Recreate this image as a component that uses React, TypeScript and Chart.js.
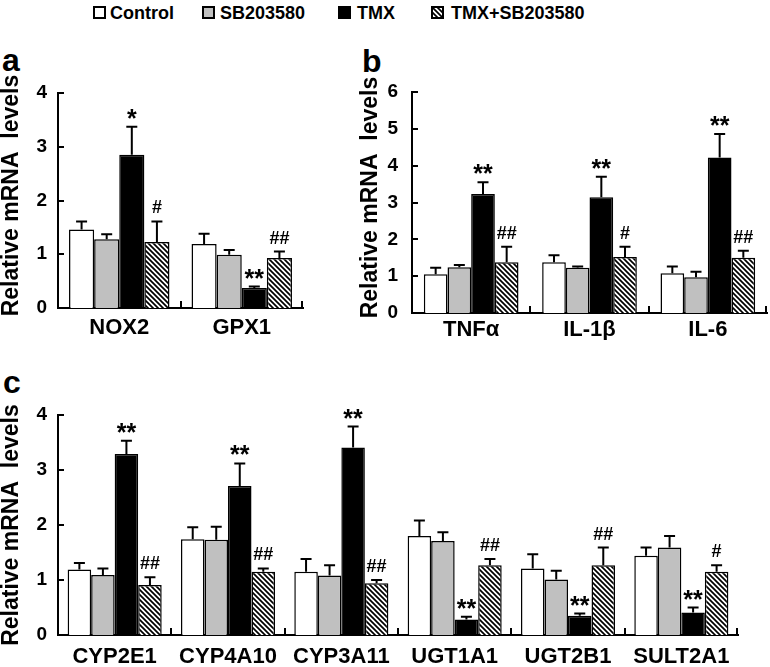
import React, { useEffect, useRef, useMemo } from 'react';
import { Chart, registerables } from 'chart.js';

Chart.register(...registerables);

const FONT = '"Liberation Sans", Arial, Helvetica, sans-serif';

// ---------- data ----------
const groupNames = ['Control', 'SB203580', 'TMX', 'TMX+SB203580'];
const yTitle = 'Relative mRNA  levels';

// panel a
const catsA = ['NOX2', 'GPX1'];
const ctrlA = [1.46, 1.19];
const ctrlErrA = [0.15, 0.19];
const sbA = [1.28, 0.99];
const sbErrA = [0.09, 0.09];
const tmxA = [2.85, 0.37];
const tmxErrA = [0.52, 0.03];
const combA = [1.23, 0.93];
const combErrA = [0.38, 0.12];
const sigTmxA = ['*', '**'];
const sigCombA = ['#', '##'];
const yMaxA = 4;

// panel b
const catsB = ['TNFα', 'IL-1β', 'IL-6'];
const ctrlB = [1.05, 1.38, 1.08];
const ctrlErrB = [0.18, 0.19, 0.18];
const sbB = [1.24, 1.23, 0.97];
const sbErrB = [0.06, 0.03, 0.15];
const tmxB = [3.23, 3.14, 4.22];
const tmxErrB = [0.32, 0.56, 0.64];
const combB = [1.38, 1.52, 1.5];
const combErrB = [0.42, 0.28, 0.19];
const sigTmxB = ['**', '**', '**'];
const sigCombB = ['##', '#', '##'];
const yMaxB = 6;

// panel c
const catsC = ['CYP2E1', 'CYP4A10', 'CYP3A11', 'UGT1A1', 'UGT2B1', 'SULT2A1'];
const ctrlC = [1.19, 1.74, 1.15, 1.8, 1.21, 1.44];
const ctrlErrC = [0.12, 0.22, 0.23, 0.28, 0.26, 0.15];
const sbC = [1.09, 1.73, 1.08, 1.71, 1.01, 1.59];
const sbErrC = [0.12, 0.24, 0.19, 0.16, 0.16, 0.21];
const tmxC = [3.29, 2.71, 3.41, 0.28, 0.35, 0.41];
const tmxErrC = [0.24, 0.41, 0.38, 0.05, 0.04, 0.09];
const combC = [0.91, 1.15, 0.94, 1.27, 1.27, 1.15];
const combErrC = [0.14, 0.06, 0.06, 0.11, 0.32, 0.12];
const sigTmxC = ['**', '**', '**', '**', '**', '**'];
const sigCombC = ['##', '##', '##', '##', '##', '#'];
const yMaxC = 4;

const noSig = (n: number) => new Array(n).fill('');

// ---------- helpers ----------
function makeHatch(): HTMLCanvasElement {
  const s = 5;
  const c = document.createElement('canvas');
  c.width = s;
  c.height = s;
  const g = c.getContext('2d')!;
  g.fillStyle = '#ffffff';
  g.fillRect(0, 0, s, s);
  g.strokeStyle = '#000000';
  g.lineWidth = 1.7;
  g.beginPath();
  g.moveTo(-1, -1);
  g.lineTo(s + 1, s + 1);
  g.moveTo(-1, s - 1);
  g.lineTo(1, s + 1);
  g.moveTo(s - 1, -1);
  g.lineTo(s + 1, 1);
  g.stroke();
  return c;
}

const errSigPlugin = {
  id: 'errSig',
  afterDatasetsDraw(chart: any) {
    const ctx = chart.ctx;
    const y = chart.scales.y;
    chart.data.datasets.forEach((ds: any, di: number) => {
      const meta = chart.getDatasetMeta(di);
      meta.data.forEach((bar: any, i: number) => {
        const v = ds.data[i];
        const e = ds.errs[i];
        const yTop = y.getPixelForValue(v + e);
        ctx.save();
        ctx.strokeStyle = '#000';
        ctx.lineWidth = 2;
        ctx.beginPath();
        ctx.moveTo(bar.x, bar.y);
        ctx.lineTo(bar.x, yTop);
        ctx.moveTo(bar.x - 5.5, yTop);
        ctx.lineTo(bar.x + 5.5, yTop);
        ctx.stroke();
        const s = ds.sig[i];
        if (s) {
          const star = s.indexOf('*') >= 0;
          ctx.font = star ? `bold 25px ${FONT}` : `bold 18px ${FONT}`;
          ctx.fillStyle = '#000';
          ctx.textAlign = 'center';
          ctx.textBaseline = 'alphabetic';
          const m = ctx.measureText(s);
          const gap = 8;
          const base = yTop - gap - m.actualBoundingBoxDescent;
          ctx.fillText(s, bar.x, base);
        }
        ctx.restore();
      });
    });
  },
};

const inwardTicksPlugin = {
  id: 'inwardTicks',
  afterDraw(chart: any) {
    const ctx = chart.ctx;
    const y = chart.scales.y;
    const x = chart.scales.x;
    const area = chart.chartArea;
    ctx.save();
    ctx.strokeStyle = '#000';
    ctx.lineWidth = 2;
    ctx.beginPath();
    for (let v = 1; v <= y.max; v++) {
      const py = Math.round(y.getPixelForValue(v));
      ctx.moveTo(area.left, py);
      ctx.lineTo(area.left + 6, py);
    }
    const n = chart.data.labels.length;
    for (let i = 1; i < n; i++) {
      const px = Math.round((x.getPixelForValue(i - 1) + x.getPixelForValue(i)) / 2);
      ctx.moveTo(px, area.bottom);
      ctx.lineTo(px, area.bottom - 7);
    }
    ctx.moveTo(area.right - 1, area.bottom);
    ctx.lineTo(area.right - 1, area.bottom - 7);
    ctx.stroke();
    ctx.restore();
  },
};

const yTitlePlugin = {
  id: 'yTitle',
  afterDraw(chart: any, _args: any, opts: any) {
    const ctx = chart.ctx;
    const area = chart.chartArea;
    ctx.save();
    ctx.translate(opts.x, (area.top + area.bottom) / 2 + opts.shift);
    ctx.rotate(-Math.PI / 2);
    ctx.font = `bold 23px ${FONT}`;
    ctx.fillStyle = '#000';
    ctx.textAlign = 'center';
    ctx.textBaseline = 'middle';
    ctx.fillText(opts.text, 0, 0);
    ctx.restore();
  },
};

type Series = { values: number[]; errs: number[]; sig: string[] };

type PanelProps = {
  left: number;
  top: number;
  width: number;
  height: number;
  cats: string[];
  series: Series[];
  yMax: number;
  padTop: number;
  padRight: number;
  yWidth: number;
  xHeight: number;
  yTickPad: number;
  xTickPad: number;
  titleX: number;
  titleShift: number;
  catPct: number;
};

function BarPanel(p: PanelProps) {
  const ref = useRef<HTMLCanvasElement>(null);
  useEffect(() => {
    const canvas = ref.current!;
    const ctx = canvas.getContext('2d')!;
    const pattern = ctx.createPattern(makeHatch(), 'repeat');
    const fills: any[] = ['#ffffff', '#c0c0c0', '#000000', pattern];
    const chart = new Chart(canvas, {
      type: 'bar',
      data: {
        labels: p.cats,
        datasets: p.series.map((s, i) => ({
          label: groupNames[i],
          data: s.values,
          errs: s.errs,
          sig: s.sig,
          backgroundColor: fills[i],
          borderColor: '#000000',
          borderWidth: 1.5,
          categoryPercentage: p.catPct,
          barPercentage: 1,
        })) as any,
      },
      options: {
        responsive: false,
        animation: false,
        events: [],
        layout: { padding: { top: p.padTop, right: p.padRight, left: 0, bottom: 0 } },
        plugins: {
          legend: { display: false },
          tooltip: { enabled: false },
          yTitle: { text: yTitle, x: p.titleX, shift: p.titleShift },
        } as any,
        scales: {
          x: {
            grid: { display: false, drawTicks: false },
            border: { display: true, color: '#000', width: 2 },
            ticks: {
              color: '#000',
              font: { family: FONT, size: 22, weight: 'bold' },
              padding: p.xTickPad,
              autoSkip: false,
              maxRotation: 0,
              minRotation: 0,
            },
            afterFit: (axis: any) => {
              axis.height = p.xHeight;
            },
          },
          y: {
            min: 0,
            max: p.yMax,
            grid: { display: false, drawTicks: false },
            border: { display: true, color: '#000', width: 2 },
            ticks: {
              stepSize: 1,
              color: '#000',
              font: { family: FONT, size: 19, weight: 'bold' },
              padding: p.yTickPad,
            },
            afterFit: (axis: any) => {
              axis.width = p.yWidth;
            },
          },
        },
      },
      plugins: [errSigPlugin, inwardTicksPlugin, yTitlePlugin],
    });
    return () => chart.destroy();
  }, []);
  return (
    <canvas
      ref={ref}
      width={p.width}
      height={p.height}
      style={{ position: 'absolute', left: p.left, top: p.top, width: p.width, height: p.height }}
    />
  );
}

export default function App() {
  const hatchUrl = useMemo(() => makeHatch().toDataURL(), []);
  const legendFills = ['#ffffff', '#c0c0c0', '#000000', `url(${hatchUrl})`];
  const legendBoxLeft = [93, 202, 338, 431];
  const legendTextLeft = [110, 220, 357, 451];

  const seriesA: Series[] = [
    { values: ctrlA, errs: ctrlErrA, sig: noSig(catsA.length) },
    { values: sbA, errs: sbErrA, sig: noSig(catsA.length) },
    { values: tmxA, errs: tmxErrA, sig: sigTmxA },
    { values: combA, errs: combErrA, sig: sigCombA },
  ];
  const seriesB: Series[] = [
    { values: ctrlB, errs: ctrlErrB, sig: noSig(catsB.length) },
    { values: sbB, errs: sbErrB, sig: noSig(catsB.length) },
    { values: tmxB, errs: tmxErrB, sig: sigTmxB },
    { values: combB, errs: combErrB, sig: sigCombB },
  ];
  const seriesC: Series[] = [
    { values: ctrlC, errs: ctrlErrC, sig: noSig(catsC.length) },
    { values: sbC, errs: sbErrC, sig: noSig(catsC.length) },
    { values: tmxC, errs: tmxErrC, sig: sigTmxC },
    { values: combC, errs: combErrC, sig: sigCombC },
  ];

  const letterStyle = (left: number, top: number): React.CSSProperties => ({
    position: 'absolute',
    left,
    top,
    fontFamily: FONT,
    fontWeight: 'bold',
    fontSize: 32,
    lineHeight: '32px',
    color: '#000',
  });

  return (
    <div
      style={{
        position: 'absolute',
        left: 0,
        top: 0,
        width: 770,
        height: 667,
        background: '#fff',
        overflow: 'hidden',
        fontFamily: FONT,
      }}
    >
      {groupNames.map((g, i) => (
        <React.Fragment key={g}>
          <div
            style={{
              position: 'absolute',
              left: legendBoxLeft[i],
              top: 6,
              width: 13,
              height: 13,
              boxSizing: 'border-box',
              border: '2px solid #000',
              background: legendFills[i],
            }}
          />
          <div
            style={{
              position: 'absolute',
              left: legendTextLeft[i],
              top: 4,
              fontSize: 18,
              lineHeight: '18px',
              fontWeight: 'bold',
              color: '#000',
              whiteSpace: 'nowrap',
            }}
          >
            {g}
          </div>
        </React.Fragment>
      ))}
      <div style={letterStyle(2, 44)}>a</div>
      <div style={letterStyle(362, 45)}>b</div>
      <div style={letterStyle(3, 366)}>c</div>

      <BarPanel
        left={0}
        top={40}
        width={320}
        height={300}
        cats={catsA}
        series={seriesA}
        yMax={yMaxA}
        padTop={53}
        padRight={17}
        yWidth={58}
        xHeight={32}
        yTickPad={11}
        xTickPad={7}
        titleX={12}
        titleShift={-5}
        catPct={0.82}
      />
      <BarPanel
        left={350}
        top={40}
        width={420}
        height={300}
        cats={catsB}
        series={seriesB}
        yMax={yMaxB}
        padTop={52}
        padRight={3}
        yWidth={62}
        xHeight={27}
        yTickPad={14}
        xTickPad={4}
        titleX={21}
        titleShift={-5}
        catPct={0.8}
      />
      <BarPanel
        left={0}
        top={345}
        width={770}
        height={322}
        cats={catsC}
        series={seriesC}
        yMax={yMaxC}
        padTop={70}
        padRight={32}
        yWidth={58}
        xHeight={32}
        yTickPad={11}
        xTickPad={9}
        titleX={12}
        titleShift={0}
        catPct={0.83}
      />
    </div>
  );
}
